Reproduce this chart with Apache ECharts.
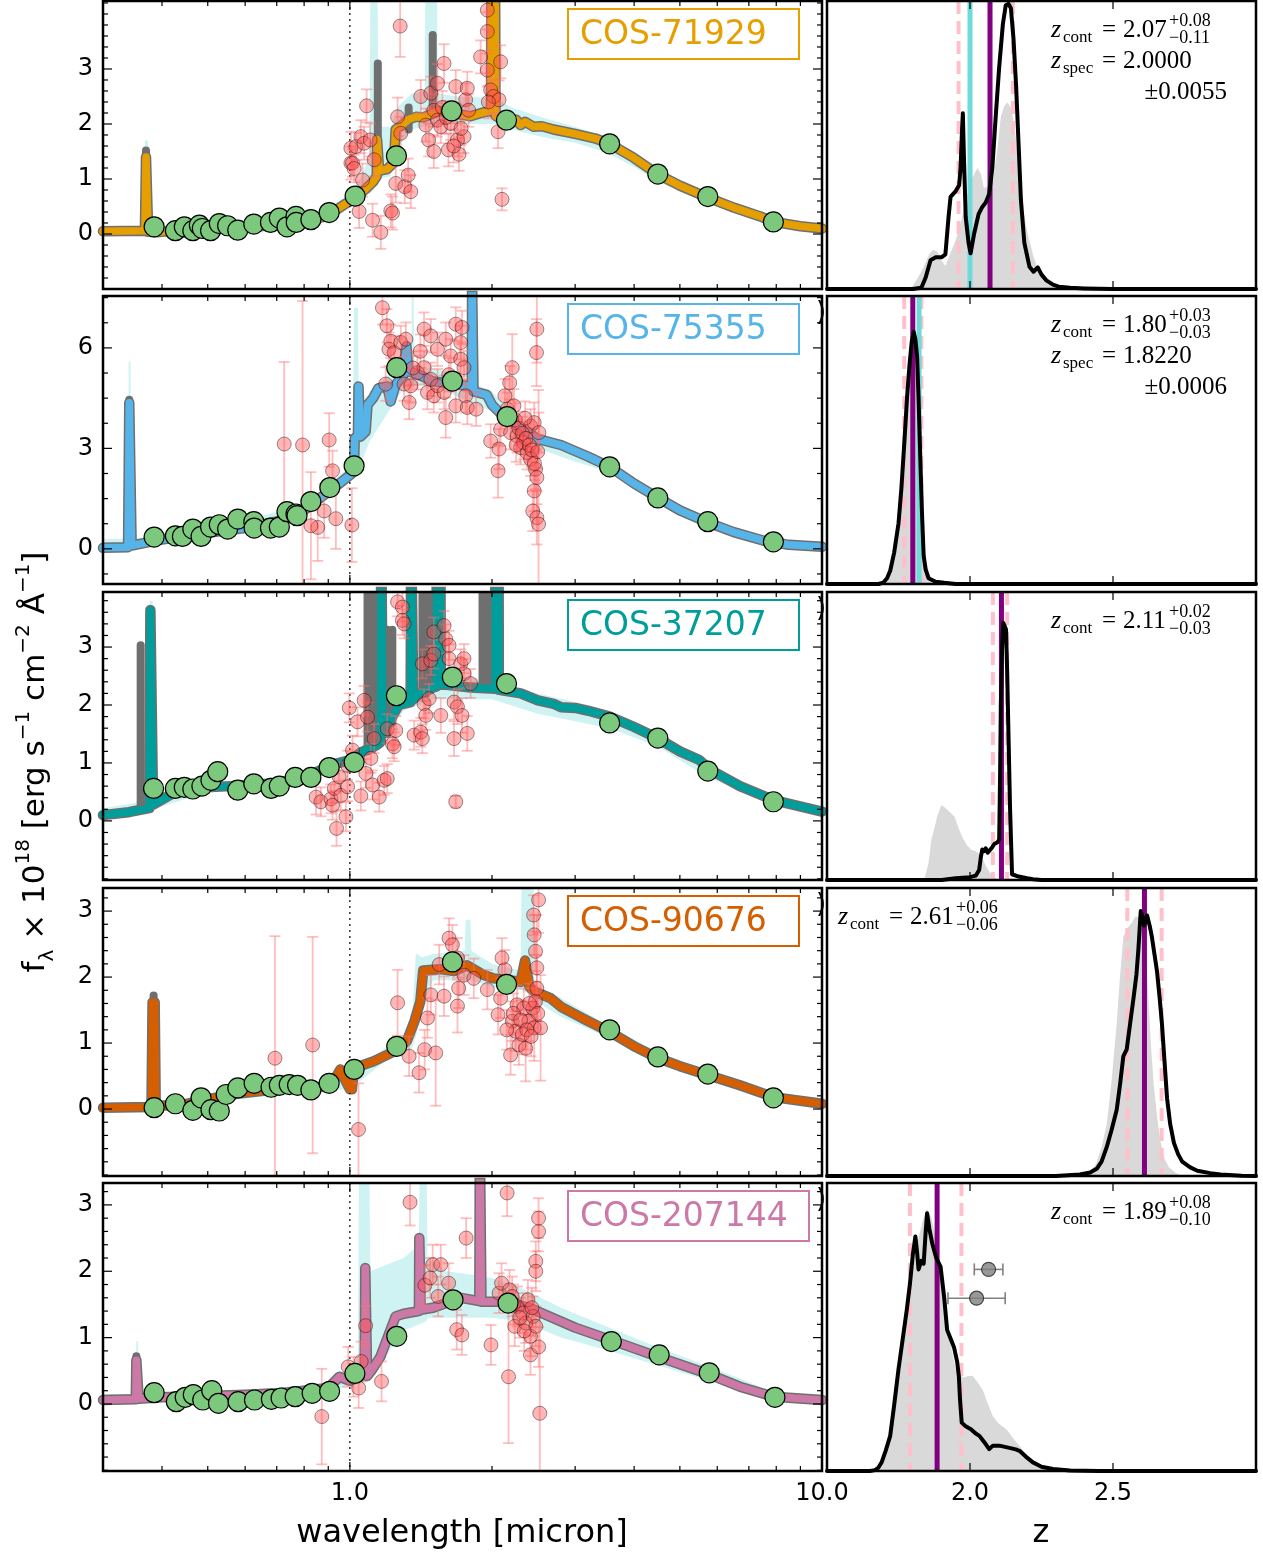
<!DOCTYPE html>
<html><head><meta charset="utf-8">
<script src="https://cdn.jsdelivr.net/npm/echarts@6.0.0/dist/echarts.min.js"></script>
<style>html,body{margin:0;padding:0;background:#fff}#c{width:1263px;height:1555px}</style>
</head><body><div id="c"></div>
<script>
// ---------------- DATA ----------------
const objNames = ['COS-71929','COS-75355','COS-37207','COS-90676','COS-207144'];
const objColors = ['#E69F00','#56B4E9','#009E9A','#D55E00','#CC79A7'];

// model spectra [wavelength micron, flux]
const modelA = [[0.30,0.05],[0.368,0.06],[0.370,1.40],[0.372,1.40],[0.374,0.04],[0.39,0.03],[0.42,0.06],[0.46,0.08],[0.52,0.10],[0.60,0.12],[0.70,0.17],[0.79,0.22],[0.87,0.30],[0.93,0.42],[0.98,0.55],[1.03,0.66],[1.08,0.82],[1.12,0.95],[1.14,1.05],[1.142,1.72],[1.150,1.72],[1.154,1.15],[1.20,1.18],[1.24,1.30],[1.25,1.90],[1.29,1.98],[1.33,2.08],[1.38,2.13],[1.43,2.12],[1.49,2.18],[1.55,2.24],[1.60,2.20],[1.65,2.14],[1.70,2.18],[1.80,2.14],[1.90,2.20],[1.99,2.24],[1.995,5],[2.03,5],[2.035,2.15],[2.08,2.10],[2.15,2.12],[2.20,2.02],[2.25,2.08],[2.30,1.98],[2.35,2.04],[2.45,1.95],[2.55,1.96],[2.70,1.90],[3.0,1.82],[3.3,1.74],[3.55,1.64],[4.0,1.38],[4.5,1.08],[5.0,0.88],[5.7,0.67],[6.5,0.48],[7.4,0.32],[7.9,0.22],[9.0,0.14],[10,0.10]];
const modelB = [[0.30,0.03],[0.339,0.05],[0.341,4.36],[0.343,4.36],[0.345,0.10],[0.36,0.15],[0.40,0.28],[0.45,0.38],[0.50,0.48],[0.60,0.62],[0.70,0.82],[0.80,1.15],[0.88,1.60],[0.95,1.95],[1.0,2.2],[1.02,2.3],[1.024,3.3],[1.04,3.4],[1.043,4.85],[1.05,4.85],[1.053,3.35],[1.08,3.5],[1.09,4.3],[1.12,4.5],[1.15,4.8],[1.2,4.85],[1.22,4.4],[1.25,4.9],[1.3,5.2],[1.318,6.05],[1.33,5.3],[1.40,5.2],[1.5,5.0],[1.6,4.95],[1.7,4.9],[1.812,4.85],[1.815,8],[1.825,8],[1.828,4.7],[1.95,4.6],[2.0,4.3],[2.1,4.0],[2.3,3.6],[2.5,3.28],[2.8,3.1],[3.2,2.75],[3.55,2.45],[4.0,1.95],[4.5,1.52],[5.0,1.15],[5.7,0.80],[6.5,0.50],[7.5,0.25],[8.5,0.12],[10,0.06]];
const modelC = [[0.30,0.10],[0.34,0.15],[0.376,0.22],[0.378,3.64],[0.381,3.64],[0.383,0.28],[0.44,0.56],[0.56,0.60],[0.68,0.64],[0.79,0.73],[0.92,0.97],[1.0,1.05],[1.06,1.19],[1.14,1.31],[1.162,1.36],[1.165,5],[1.172,5],[1.175,1.5],[1.22,1.75],[1.27,2.0],[1.345,2.05],[1.348,5],[1.36,5],[1.363,2.1],[1.42,2.22],[1.50,2.3],[1.525,2.32],[1.528,5],[1.555,5],[1.558,2.35],[1.6,2.35],[1.8,2.3],[2.03,2.28],[2.033,5],[2.065,5],[2.068,2.26],[2.3,2.2],[2.5,2.08],[2.7,2.02],[2.8,1.96],[3.0,1.95],[3.2,1.9],[3.55,1.8],[4.0,1.62],[4.5,1.42],[5.0,1.2],[5.5,1.05],[5.8,0.88],[6.7,0.60],[7.9,0.36],[10,0.16]];
const modelD = [[0.30,0.02],[0.380,0.03],[0.382,1.62],[0.386,1.62],[0.388,0.05],[0.44,0.06],[0.50,0.15],[0.588,0.24],[0.70,0.30],[0.79,0.32],[0.91,0.34],[0.955,0.60],[0.96,0.55],[1.0,0.30],[1.01,0.30],[1.02,0.62],[1.12,0.72],[1.24,0.87],[1.32,1.03],[1.37,1.33],[1.41,1.63],[1.43,2.10],[1.55,2.12],[1.66,2.09],[1.77,2.18],[1.92,2.03],[2.02,1.98],[2.30,1.93],[2.35,2.25],[2.40,1.85],[2.46,1.78],[2.66,1.68],[2.80,1.55],[3.1,1.38],[3.55,1.17],[4.0,0.95],[4.5,0.77],[5.0,0.65],[5.7,0.52],[6.7,0.36],[7.9,0.18],[10,0.08]];
const modelE = [[0.30,0.06],[0.352,0.07],[0.353,0.66],[0.355,0.66],[0.357,0.08],[0.40,0.10],[0.50,0.12],[0.60,0.14],[0.70,0.16],[0.80,0.20],[0.90,0.24],[0.95,0.41],[1.0,0.35],[1.05,0.41],[1.075,0.45],[1.078,2.05],[1.085,2.05],[1.088,0.42],[1.11,0.50],[1.16,0.71],[1.25,1.32],[1.30,1.36],[1.40,1.40],[1.403,2.5],[1.41,2.5],[1.413,1.42],[1.5,1.45],[1.6,1.52],[1.72,1.60],[1.88,1.55],[1.885,4],[1.895,4],[1.90,1.54],[2.1,1.54],[2.4,1.45],[3.0,1.15],[3.55,0.97],[4.5,0.71],[5.7,0.46],[6.7,0.26],[7.9,0.11],[10,0.06]];

// gray model emission lines [wavelength, base, top]
const grayA = [[0.370,0.1,1.52],[1.146,1.1,3.1],[1.332,1.9,2.3],[1.498,2.2,3.62],[2.0,2.2,5]];
const grayB = [[0.341,0.1,4.45],[1.82,4.8,8]];
const grayC = [[0.3605,0.2,3.03],[1.09,1.2,5],[1.12,1.25,5],[1.20,1.5,3.3],[1.23,1.7,3.3],[1.425,2.2,5],[1.45,2.2,5],[1.48,2.25,5],[1.91,2.3,5],[1.94,2.3,5],[1.97,2.3,5]];
const grayD = [[0.384,0.05,1.72]];
const grayE = [[0.353,0.08,0.72],[1.082,0.45,1.82],[1.406,1.4,2.3],[1.89,1.55,4]];

// model uncertainty band [wavelength, low, high]
const bandA = [[0.30,0.0,0.10],[0.367,0.0,0.12],[0.368,0.0,1.70],[0.374,0.0,1.70],[0.376,0.0,0.10],[0.50,0.04,0.16],[0.70,0.11,0.23],[0.90,0.32,0.48],[1.0,0.52,0.72],[1.05,0.62,1.0],[1.10,0.74,1.4],[1.105,0.74,4.3],[1.145,0.9,4.3],[1.15,1.0,1.95],[1.22,1.05,1.95],[1.26,1.55,2.3],[1.35,1.9,2.55],[1.44,1.95,2.6],[1.445,1.95,4.3],[1.53,2.0,4.3],[1.535,2.0,2.55],[1.7,2.0,2.5],[1.9,2.0,2.48],[2.05,2.0,2.45],[2.2,1.9,2.3],[2.6,1.75,2.1],[3.0,1.66,1.95],[3.5,1.48,1.76],[4.0,1.22,1.5],[4.5,0.95,1.18],[5.7,0.56,0.75],[7.0,0.30,0.45],[8.0,0.17,0.28],[10,0.06,0.14]];
const bandB = [[0.30,0.0,0.3],[0.339,0.0,0.3],[0.340,0.0,5.6],[0.343,0.0,5.6],[0.345,0.05,0.3],[0.5,0.38,0.6],[0.8,1.05,1.3],[1.0,2.0,2.45],[1.015,2.1,2.45],[1.02,2.2,7.2],[1.04,2.3,7.2],[1.045,2.4,4.0],[1.1,3.2,4.7],[1.3,4.8,5.6],[1.35,4.9,5.6],[1.352,4.9,7.6],[1.365,4.9,7.6],[1.37,4.9,5.5],[1.6,4.7,5.3],[2.0,4.1,4.7],[2.3,3.2,3.8],[2.5,3.0,3.5],[3.0,2.6,3.0],[3.55,2.3,2.6],[4.5,1.4,1.65],[5.7,0.7,0.9],[7.5,0.18,0.32],[10,0.02,0.1]];
const bandC = [[0.30,0.05,0.22],[0.376,0.15,0.35],[0.377,0.15,3.8],[0.382,0.15,3.8],[0.384,0.2,0.4],[0.5,0.5,0.66],[0.8,0.66,0.8],[1.0,0.98,1.15],[1.15,1.2,1.45],[1.2,1.5,2.0],[1.3,1.9,2.3],[1.5,2.1,2.5],[2.0,2.1,2.45],[2.5,1.85,2.2],[3.0,1.72,2.05],[3.55,1.6,1.9],[4.5,1.28,1.52],[5.7,0.76,0.98],[7.9,0.28,0.42],[10,0.08,0.2]];
const bandD = [[0.30,0.0,0.08],[0.381,0.0,0.1],[0.382,0.0,1.75],[0.386,0.0,1.75],[0.388,0.0,0.1],[0.5,0.1,0.22],[0.8,0.26,0.38],[1.0,0.3,0.5],[1.2,0.75,0.95],[1.35,0.9,1.2],[1.38,1.1,2.36],[1.42,1.5,2.3],[1.5,1.95,2.35],[1.75,1.95,2.4],[1.76,1.95,2.87],[1.80,1.95,2.87],[1.81,1.95,2.4],[2.0,1.85,2.2],[2.3,1.8,2.1],[2.31,1.8,3.5],[2.45,1.7,3.5],[2.46,1.65,1.9],[2.8,1.4,1.68],[3.55,1.07,1.25],[4.5,0.68,0.85],[5.7,0.44,0.6],[7.9,0.12,0.24],[10,0.04,0.12]];
const bandE = [[0.30,0.0,0.15],[0.352,0.02,0.15],[0.353,0.02,0.95],[0.356,0.02,0.95],[0.358,0.03,0.18],[0.6,0.08,0.2],[0.9,0.18,0.32],[1.0,0.28,0.5],[1.04,0.3,0.7],[1.045,0.3,3.4],[1.10,0.35,3.4],[1.105,0.4,2.0],[1.2,0.75,2.1],[1.3,1.1,2.2],[1.40,1.2,2.4],[1.405,1.2,3.4],[1.455,1.25,3.4],[1.46,1.3,2.2],[1.6,1.3,2.0],[1.8,1.3,1.95],[2.0,1.3,1.9],[2.3,1.25,1.75],[2.8,1.0,1.45],[3.55,0.8,1.15],[4.5,0.58,0.85],[5.7,0.36,0.58],[7.9,0.05,0.18],[10,0.02,0.12]];

// photometry [wavelength, flux]
const photA = [[0.385,0.13],[0.427,0.06],[0.446,0.13],[0.465,0.06],[0.480,0.16],[0.487,0.10],[0.507,0.06],[0.529,0.19],[0.551,0.15],[0.579,0.07],[0.626,0.18],[0.679,0.21],[0.709,0.29],[0.736,0.13],[0.769,0.32],[0.770,0.21],[0.827,0.26],[0.904,0.39],[1.026,0.69],[1.255,1.42],[1.643,2.24],[2.147,2.07],[3.55,1.64],[4.49,1.09],[5.73,0.68],[7.89,0.22]];
const photB = [[0.385,0.35],[0.427,0.39],[0.442,0.37],[0.465,0.59],[0.484,0.37],[0.507,0.65],[0.529,0.72],[0.551,0.59],[0.579,0.89],[0.626,0.81],[0.627,0.62],[0.679,0.62],[0.709,0.65],[0.736,1.11],[0.769,1.04],[0.773,0.99],[0.827,1.41],[0.907,1.83],[1.021,2.48],[1.257,5.41],[1.649,5.01],[2.154,3.95],[3.55,2.45],[4.49,1.52],[5.73,0.81],[7.89,0.21]];
const photC = [[0.384,0.56],[0.427,0.56],[0.446,0.58],[0.465,0.55],[0.486,0.60],[0.508,0.70],[0.525,0.85],[0.579,0.53],[0.626,0.64],[0.681,0.56],[0.709,0.60],[0.766,0.75],[0.827,0.75],[0.904,0.92],[1.021,1.01],[1.255,2.16],[1.649,2.48],[2.147,2.37],[3.55,1.69],[4.49,1.43],[5.73,0.86],[7.89,0.33]];
const photD = [[0.385,0.02],[0.427,0.08],[0.465,-0.02],[0.484,0.17],[0.508,-0.01],[0.529,-0.03],[0.547,0.22],[0.579,0.32],[0.627,0.39],[0.681,0.33],[0.709,0.36],[0.744,0.37],[0.775,0.36],[0.827,0.29],[0.904,0.39],[1.021,0.60],[1.257,0.95],[1.649,2.23],[2.147,1.89],[3.55,1.20],[4.49,0.79],[5.73,0.53],[7.89,0.17]];
const photE = [[0.385,0.17],[0.429,0.035],[0.448,0.10],[0.466,0.14],[0.488,0.06],[0.51,0.20],[0.527,0.01],[0.58,0.035],[0.628,0.06],[0.682,0.07],[0.715,0.09],[0.766,0.11],[0.832,0.16],[0.906,0.19],[1.025,0.46],[1.257,1.02],[1.654,1.57],[2.163,1.52],[3.58,0.94],[4.52,0.74],[5.77,0.47],[7.95,0.10]];

// grism spectroscopy [wavelength, flux, error]
const specA = [[1.005,1.56,0.3],[1.005,1.29,0.3],[1.013,1.29,0.25],[1.021,1.19,0.25],[1.03,1.59,0.25],[1.046,0.41,0.3],[1.055,1.77,0.3],[1.064,0.98,0.3],[1.072,1.65,0.3],[1.085,2.33,0.3],[1.104,1.71,0.3],[1.117,0.25,0.3],[1.126,1.35,0.3],[1.163,0.03,0.3],[1.221,0.42,0.3],[1.231,0.38,0.3],[1.251,0.92,0.35],[1.262,2.13,0.35],[1.278,3.78,0.56],[1.282,1.83,0.3],[1.307,0.86,0.3],[1.329,1.07,0.3],[1.346,0.77,0.3],[1.413,2.5,0.3],[1.448,1.98,0.3],[1.469,1.71,0.3],[1.484,2.56,0.3],[1.506,2.25,0.3],[1.506,1.5,0.3],[1.533,2.74,0.35],[1.533,2.07,0.3],[1.558,1.95,0.3],[1.583,3.1,0.35],[1.617,1.53,0.3],[1.635,2.01,0.3],[1.676,2.68,0.3],[1.69,1.71,0.3],[1.703,1.45,0.3],[1.745,1.77,0.3],[1.759,2.44,0.3],[1.773,2.65,0.3],[1.785,2.25,0.3],[1.892,3.22,0.3],[1.955,4.07,0.35],[1.955,3.68,0.35],[1.955,2.98,0.3],[1.987,2.62,0.3],[2.016,2.5,0.3],[2.06,1.86,0.3],[2.07,2.44,0.35],[2.086,3.13,0.3],[2.10,0.63,0.2],[1.57,2.3,0.3],[1.60,2.12,0.3],[1.66,1.6,0.3],[1.72,1.92,0.3],[1.965,2.4,0.3]];
const specB = [[0.726,3.13,2.45],[0.794,3.1,4.3],[0.855,0.64,1.0],[0.827,0.69,1.6],[0.882,1.13,0.8],[0.904,3.25,0.8],[0.919,2.33,0.6],[0.934,0.9,0.9],[1.01,0.71,1.1],[1.172,7.2,0.5],[1.191,4.92,0.5],[1.198,6.66,0.5],[1.21,5.96,0.5],[1.221,6.2,0.5],[1.241,5.86,0.5],[1.282,6.16,0.5],[1.303,4.92,0.5],[1.314,6.26,0.5],[1.335,4.37,0.5],[1.346,4.87,0.5],[1.39,5.26,0.5],[1.436,6.56,0.5],[1.436,5.41,0.5],[1.46,4.67,0.5],[1.484,6.36,0.5],[1.484,5.06,0.5],[1.506,4.57,0.5],[1.533,5.96,0.5],[1.533,4.87,0.5],[1.583,4.67,0.5],[1.596,6.26,0.5],[1.596,3.92,0.6],[1.635,5.76,0.5],[1.676,6.71,0.5],[1.676,4.27,0.5],[1.717,6.16,0.5],[1.717,5.66,0.5],[1.728,6.61,0.5],[1.745,5.41,0.5],[1.759,4.57,0.5],[1.773,4.22,0.5],[1.851,4.17,0.5],[1.987,3.22,0.5],[2.06,2.33,0.8],[2.07,2.98,0.6],[2.086,3.57,0.5],[2.13,4.57,0.5],[2.154,4.17,0.5],[2.18,4.96,0.5],[2.19,3.47,0.5],[2.208,5.41,1.0],[2.226,4.27,0.5],[2.26,3.37,0.5],[2.299,3.02,0.5],[2.334,3.17,0.5],[2.375,2.87,0.5],[2.414,3.67,0.5],[2.414,2.68,0.5],[2.44,1.13,0.6],[2.457,3.77,0.6],[2.457,1.73,0.6],[2.473,2.38,0.6],[2.485,5.86,1.0],[2.489,6.56,1.0],[2.489,2.13,0.8],[2.489,0.93,0.8],[2.514,3.47,0.6],[2.51,0.74,4.0],[2.24,3.85,0.5],[2.28,3.6,0.5],[2.32,3.45,0.5],[2.36,3.3,0.5],[2.40,3.1,0.5],[2.43,2.95,0.5],[2.46,2.55,0.5],[2.50,2.9,0.5],[2.35,3.9,0.5],[2.25,3.1,0.5],[1.36,5.4,0.5],[1.62,5.2,0.5],[1.41,5.9,0.5]];
const specC = [[0.848,0.41,0.3],[0.868,0.33,0.25],[0.912,0.38,0.25],[0.919,0.27,0.25],[0.927,0.56,0.25],[0.937,-0.13,0.3],[0.949,0.76,0.25],[0.957,0.44,0.25],[0.981,0.07,0.25],[0.989,0.96,0.25],[0.989,0.59,0.25],[0.997,1.95,0.25],[1.013,1.22,0.25],[1.038,1.71,0.25],[1.055,0.43,0.25],[1.072,2.08,0.25],[1.081,0.82,0.25],[1.09,1.79,0.25],[1.108,1.08,0.25],[1.117,0.62,0.25],[1.126,1.42,0.25],[1.154,0.41,0.25],[1.182,0.7,0.25],[1.2,0.73,0.25],[1.2,1.59,0.25],[1.231,1.33,0.25],[1.241,1.28,0.25],[1.251,1.56,0.25],[1.262,3.78,0.25],[1.292,3.69,0.25],[1.292,3.46,0.25],[1.303,3.4,0.25],[1.368,1.48,0.25],[1.413,1.53,0.25],[1.424,1.42,0.25],[1.424,2.71,0.25],[1.436,2.02,0.25],[1.448,1.82,0.25],[1.472,2.11,0.25],[1.484,2.77,0.25],[1.506,3.26,0.25],[1.506,2.88,0.25],[1.558,1.82,0.3],[1.583,3.37,0.25],[1.596,3.14,0.25],[1.622,3.03,0.25],[1.622,2.8,0.25],[1.662,2.05,0.3],[1.662,1.42,0.3],[1.676,0.33,0.1],[1.69,1.97,0.3],[1.717,2.71,0.25],[1.728,1.82,0.3],[1.745,2.8,0.25],[1.745,2.54,0.25],[1.773,1.51,0.3],[1.802,2.37,0.25]];
const specD = [[0.694,0.77,1.85],[0.834,0.97,1.64],[1.043,-0.31,0.7],[1.262,1.61,0.5],[1.335,0.8,0.3],[1.401,0.55,0.3],[1.44,0.9,0.3],[1.46,1.38,0.3],[1.484,1.73,0.3],[1.52,0.85,0.8],[1.546,2.19,0.3],[1.583,1.71,0.3],[1.622,2.59,0.3],[1.649,2.49,0.3],[1.69,2.29,0.3],[1.69,1.56,0.4],[1.70,1.83,0.3],[1.745,2.03,0.3],[1.83,1.98,0.3],[1.955,1.81,0.3],[2.06,1.43,0.3],[2.086,1.68,0.3],[2.10,2.29,0.3],[2.13,2.11,0.3],[2.19,0.82,0.3],[2.208,1.33,0.3],[2.244,1.18,0.3],[2.26,1.58,0.3],[2.28,0.97,0.3],[2.32,1.13,0.3],[2.335,1.53,0.3],[2.357,0.92,0.5],[2.394,1.33,0.3],[2.44,1.53,0.3],[2.45,2.94,0.3],[2.457,1.23,0.5],[2.457,2.64,0.3],[2.473,1.63,0.3],[2.473,2.39,0.3],[2.489,2.14,0.8],[2.489,1.83,0.5],[2.51,3.17,0.5],[2.535,1.23,0.8],[2.22,1.45,0.3],[2.30,1.35,0.3],[2.37,1.2,0.3],[2.42,1.1,0.3],[2.40,1.6,0.3],[2.50,1.45,0.3],[2.15,1.2,0.3]];
const specE = [[0.872,-0.19,0.72],[0.992,0.56,0.3],[1.018,0.41,0.3],[1.044,0.24,0.3],[1.057,0.64,0.3],[1.08,1.18,0.3],[1.167,0.34,0.3],[1.341,3.04,0.35],[1.442,1.79,0.3],[1.479,1.9,0.3],[1.498,2.1,0.3],[1.538,1.62,0.3],[1.558,2.1,0.3],[1.619,1.82,0.3],[1.684,1.12,0.3],[1.727,1.04,0.3],[1.763,2.5,0.3],[1.99,0.89,0.3],[2.07,1.67,0.3],[2.096,1.82,0.3],[2.153,3.18,0.35],[2.168,0.41,1.0],[2.179,1.72,0.3],[2.207,1.62,0.3],[2.235,1.17,0.3],[2.264,1.47,0.3],[2.323,1.37,0.3],[2.357,1.22,0.3],[2.383,1.57,0.3],[2.413,1.02,0.3],[2.413,0.74,0.3],[2.445,1.32,0.3],[2.476,1.17,0.3],[2.476,2.15,0.3],[2.476,2.0,0.3],[2.511,0.86,0.3],[2.51,2.6,0.3],[2.51,2.8,0.3],[2.525,-0.14,1.5],[2.29,1.3,0.3],[2.34,1.1,0.3],[2.43,1.45,0.3],[2.22,1.5,0.3]];

// redshift posteriors [z, p]
const pdfA = [[1.5,0],[1.80,0],[1.83,0.004],[1.845,0.04],[1.862,0.10],[1.88,0.11],[1.90,0.11],[1.914,0.12],[1.925,0.25],[1.932,0.32],[1.95,0.34],[1.962,0.36],[1.967,0.42],[1.972,0.55],[1.975,0.61],[1.979,0.45],[1.985,0.25],[1.995,0.16],[2.002,0.124],[2.014,0.19],[2.03,0.26],[2.043,0.285],[2.055,0.30],[2.067,0.33],[2.078,0.42],[2.09,0.60],[2.102,0.77],[2.115,0.92],[2.125,0.985],[2.135,0.99],[2.143,0.975],[2.152,0.87],[2.161,0.71],[2.17,0.50],[2.178,0.31],[2.19,0.16],[2.208,0.077],[2.222,0.06],[2.237,0.075],[2.25,0.05],[2.267,0.03],[2.29,0.015],[2.31,0.008],[2.35,0.004],[2.4,0.002],[2.5,0],[3.0,0]];
const pdfGrayA = [[1.5,0],[1.78,0],[1.80,0.01],[1.83,0.06],[1.857,0.12],[1.87,0.135],[1.885,0.13],[1.90,0.10],[1.914,0.08],[1.93,0.12],[1.95,0.17],[1.97,0.24],[1.985,0.31],[2.005,0.38],[2.026,0.42],[2.038,0.40],[2.049,0.35],[2.065,0.36],[2.08,0.377],[2.095,0.48],[2.108,0.60],[2.12,0.635],[2.131,0.648],[2.143,0.63],[2.155,0.57],[2.168,0.45],[2.18,0.31],[2.2,0.20],[2.22,0.12],[2.24,0.06],[2.255,0.03],[2.29,0.008],[2.32,0],[3.0,0]];
const pdfB = [[1.5,0],[1.68,0],[1.697,0.005],[1.71,0.02],[1.721,0.046],[1.735,0.11],[1.75,0.21],[1.76,0.33],[1.771,0.50],[1.78,0.65],[1.788,0.755],[1.796,0.84],[1.803,0.876],[1.809,0.85],[1.815,0.79],[1.82,0.65],[1.826,0.444],[1.832,0.25],[1.838,0.098],[1.845,0.05],[1.855,0.02],[1.88,0.008],[1.91,0.004],[1.95,0],[3.0,0]];
const pdfGrayB = [[1.5,0],[1.69,0],[1.705,0.02],[1.726,0.08],[1.745,0.2],[1.756,0.31],[1.77,0.5],[1.785,0.7],[1.8,0.78],[1.812,0.72],[1.822,0.5],[1.832,0.25],[1.845,0.08],[1.86,0.03],[1.88,0],[3.0,0]];
const pdfC = [[1.5,0],[1.90,0],[1.95,0.006],[2.0,0.01],[2.02,0.015],[2.032,0.035],[2.038,0.08],[2.043,0.106],[2.05,0.10],[2.055,0.11],[2.062,0.095],[2.067,0.09],[2.075,0.11],[2.085,0.125],[2.095,0.13],[2.102,0.14],[2.105,0.35],[2.108,0.613],[2.112,0.80],[2.116,0.893],[2.12,0.885],[2.126,0.87],[2.13,0.72],[2.135,0.484],[2.14,0.25],[2.147,0.02],[2.17,0.012],[2.2,0.006],[2.22,0.003],[2.25,0],[3.0,0]];
const pdfGrayC = [[1.5,0],[1.84,0],[1.855,0.06],[1.865,0.14],[1.873,0.17],[1.885,0.22],[1.90,0.26],[1.914,0.25],[1.93,0.235],[1.946,0.22],[1.96,0.18],[1.975,0.145],[1.99,0.12],[2.004,0.105],[2.02,0.10],[2.032,0.09],[2.045,0.07],[2.055,0.05],[2.07,0.025],[2.08,0.013],[2.1,0],[3.0,0]];
const pdfD = [[1.5,0],[2.3,0],[2.384,0.005],[2.42,0.012],[2.443,0.025],[2.46,0.05],[2.478,0.10],[2.495,0.16],[2.513,0.23],[2.525,0.32],[2.536,0.415],[2.548,0.44],[2.56,0.53],[2.572,0.62],[2.582,0.70],[2.589,0.79],[2.597,0.92],[2.603,0.90],[2.609,0.87],[2.619,0.905],[2.628,0.87],[2.636,0.83],[2.645,0.77],[2.654,0.71],[2.663,0.62],[2.671,0.53],[2.68,0.40],[2.689,0.27],[2.7,0.18],[2.713,0.115],[2.728,0.075],[2.742,0.05],[2.77,0.03],[2.795,0.018],[2.84,0.01],[2.876,0.005],[2.95,0.001],[3.0,0]];
const pdfGrayD = [[1.5,0],[2.38,0],[2.408,0.005],[2.44,0.04],[2.46,0.10],[2.478,0.18],[2.495,0.33],[2.513,0.53],[2.525,0.70],[2.536,0.83],[2.55,0.86],[2.566,0.88],[2.578,0.90],[2.589,0.90],[2.6,0.86],[2.613,0.79],[2.625,0.60],[2.633,0.45],[2.642,0.32],[2.655,0.20],[2.666,0.12],[2.68,0.06],[2.695,0.03],[2.72,0.01],[2.74,0],[3.0,0]];
const pdfE = [[1.5,0],[1.65,0],[1.668,0.003],[1.68,0.012],[1.691,0.03],[1.705,0.07],[1.721,0.122],[1.735,0.23],[1.75,0.353],[1.765,0.46],[1.779,0.56],[1.79,0.65],[1.80,0.75],[1.809,0.814],[1.815,0.76],[1.82,0.70],[1.83,0.73],[1.838,0.72],[1.845,0.83],[1.85,0.895],[1.858,0.84],[1.868,0.79],[1.882,0.74],[1.897,0.71],[1.91,0.60],[1.92,0.49],[1.932,0.46],[1.944,0.43],[1.955,0.38],[1.961,0.33],[1.965,0.25],[1.971,0.168],[1.985,0.155],[2.003,0.145],[2.02,0.13],[2.033,0.122],[2.05,0.10],[2.067,0.076],[2.08,0.088],[2.102,0.088],[2.13,0.082],[2.16,0.075],[2.173,0.07],[2.195,0.05],[2.22,0.03],[2.25,0.015],[2.29,0.007],[2.35,0.002],[2.45,0],[3.0,0]];
const pdfGrayE = [[1.5,0],[1.68,0],[1.695,0.02],[1.715,0.10],[1.74,0.24],[1.76,0.38],[1.785,0.58],[1.80,0.70],[1.82,0.81],[1.835,0.87],[1.85,0.91],[1.865,0.88],[1.88,0.81],[1.897,0.70],[1.914,0.56],[1.93,0.45],[1.95,0.353],[1.975,0.325],[1.995,0.33],[2.01,0.33],[2.025,0.31],[2.045,0.28],[2.06,0.24],[2.08,0.19],[2.1,0.165],[2.127,0.145],[2.15,0.115],[2.173,0.087],[2.195,0.06],[2.22,0.03],[2.25,0.01],[2.28,0],[3.0,0]];

// redshift markers
const zCont = [2.07, 1.80, 2.11, 2.61, 1.885];
const zPctLo = [1.96, 1.77, 2.08, 2.55, 1.79];
const zPctHi = [2.15, 1.83, 2.13, 2.67, 1.97];
const zSpec = [2.0, 1.822, null, null, null];
// other redshift estimates in last panel [z, p, zlo, zhi]
const zOtherE = [[2.065,0.70,2.015,2.115],[2.023,0.60,1.923,2.123]];

// annotation texts
const zTxtVal = ['2.07','1.80','2.11','2.61','1.89'];
const zTxtUp = ['+0.08','+0.03','+0.02','+0.06','+0.08'];
const zTxtLo = ['\u22120.11','\u22120.03','\u22120.03','\u22120.06','\u22120.10'];
const zSpecTxt = ['2.0000','1.8220',null,null,null];
const zSpecErrTxt = ['\u00b10.0055','\u00b10.0006',null,null,null];

// axis ticks
const yMajor = [[0,1,2,3],[0,3,6],[0,1,2,3],[0,1,2,3],[0,1,2,3]];
const yMinorStep = [0.2,0.75,0.2,0.2,0.2];
const yRange = [[-1.0,4.236],[-1.05,7.55],[-1.02,3.95],[-1.015,3.35],[-1.01,3.33]];
const xMajor = [1,10], xMajorLabels = ['1.0','10.0'];
const xMinor = [0.4,0.5,0.6,0.7,0.8,0.9,2,3,4,5,6,7,8,9];
const zTicks = [1.5,2.0,2.5], zTickLabels = ['','2.0','2.5'];

// ---------------- LAYOUT ----------------
const ROW_TOP = [1,296,592,888,1183], ROW_H = 288;
const LX = 103, LW = 719, RX = 827, RW = 429;
const BOX_W = [231,231,231,231,241];
const ZTXT_X = [1051,1051,1051,838,1051];

const models=[modelA,modelB,modelC,modelD,modelE], grays=[grayA,grayB,grayC,grayD,grayE];
const bands=[bandA,bandB,bandC,bandD,bandE], phots=[photA,photB,photC,photD,photE];
const specs=[specA,specB,specC,specD,specE];
const pdfs=[pdfA,pdfB,pdfC,pdfD,pdfE], pdfGrays=[pdfGrayA,pdfGrayB,pdfGrayC,pdfGrayD,pdfGrayE];

const chart = echarts.init(document.getElementById('c'), null, {renderer:'canvas', width:1263, height:1555});
const H = {show:false};
const grid=[], xAxis=[], yAxis=[], series=[], graphic=[];

function bandSeries(gi, band){
  return {type:'custom', xAxisIndex:gi, yAxisIndex:gi, clip:true, silent:true, z:1,
    data:[[band[0][0], band[0][1]]],
    renderItem(p, api){
      const pts = band.map(b=>api.coord([b[0],b[1]])).concat(band.slice().reverse().map(b=>api.coord([b[0],b[2]])));
      return {type:'polygon', shape:{points:pts}, style:{fill:'#cff3f3'}};
    }};
}
function spikeSeries(gi, data){
  return {type:'custom', xAxisIndex:gi, yAxisIndex:gi, clip:true, silent:true, z:2,
    data:data,
    renderItem(p, api){
      const a=api.coord([api.value(0),api.value(1)]), b=api.coord([api.value(0),api.value(2)]);
      return {type:'line', shape:{x1:a[0],y1:a[1],x2:b[0],y2:b[1]}, style:{stroke:'#6f6f6f', lineWidth:8, lineCap:'round'}};
    }};
}
function vErrSeries(gi, data){
  return {type:'custom', xAxisIndex:gi, yAxisIndex:gi, clip:true, silent:true, z:4,
    data:data,
    renderItem(p, api){
      const x=api.value(0), y=api.value(1), e=api.value(2);
      const a=api.coord([x,y-e]), b=api.coord([x,y+e]), c=5.5;
      const st={stroke:'rgba(255,110,110,0.45)', lineWidth:1.8};
      return {type:'group', children:[
        {type:'line', shape:{x1:a[0],y1:a[1],x2:b[0],y2:b[1]}, style:st},
        {type:'line', shape:{x1:a[0]-c,y1:a[1],x2:a[0]+c,y2:a[1]}, style:st},
        {type:'line', shape:{x1:b[0]-c,y1:b[1],x2:b[0]+c,y2:b[1]}, style:st}]};
    }};
}
function hErrSeries(gi, data){
  return {type:'custom', xAxisIndex:gi, yAxisIndex:gi, clip:true, silent:true, z:7,
    data:data,
    renderItem(p, api){
      const y=api.value(1);
      const a=api.coord([api.value(2),y]), b=api.coord([api.value(3),y]), c=6;
      const st={stroke:'#808080', lineWidth:1.6};
      return {type:'group', children:[
        {type:'line', shape:{x1:a[0],y1:a[1],x2:b[0],y2:b[1]}, style:st},
        {type:'line', shape:{x1:a[0],y1:a[1]-c,x2:a[0],y2:a[1]+c}, style:st},
        {type:'line', shape:{x1:b[0],y1:b[1]-c,x2:b[0],y2:b[1]+c}, style:st}]};
    }};
}
function vLineSeries(gi, xv, yref, style, z){
  return {type:'custom', xAxisIndex:gi, yAxisIndex:gi, clip:true, silent:true, z:z,
    data:[[xv, yref]],
    renderItem(p, api){
      const cs=p.coordSys; const x=api.coord([api.value(0),api.value(1)])[0];
      return {type:'line', shape:{x1:x,y1:cs.y,x2:x,y2:cs.y+cs.height}, style:style};
    }};
}
function txtStyle(text, size, align, valign, family){
  return {text:text, fill:'#000', fontSize:size, fontFamily:family||'DejaVu Sans',
    align:align, verticalAlign:valign, textAlign:align, textVerticalAlign:valign};
}
function decoSeries(gi, xr, yr, xT, yT){
  const items=[['f',0,0,'']].concat(xT.map(t=>['x',t[0],t[1],t[2]]), yT.map(t=>['y',t[0],t[1],t[2]]));
  return {type:'custom', xAxisIndex:gi, yAxisIndex:gi, clip:false, silent:true, z:20,
    data: items.map(it => it[0]==='x' ? [it[1], yr[0]] : (it[0]==='y' ? [xr[0], it[1]] : [xr[0], yr[0]])),
    renderItem(p, api){
      const it=items[p.dataIndex], cs=p.coordSys;
      const L=cs.x, R=cs.x+cs.width, T=cs.y, B=cs.y+cs.height;
      if(it[0]==='f') return {type:'rect', shape:{x:L,y:T,width:cs.width,height:cs.height}, style:{fill:'none', stroke:'#000', lineWidth:2.5}};
      const st={stroke:'#000', lineWidth:1.2}; const ch=[];
      const c=api.coord([api.value(0),api.value(1)]);
      if(it[0]==='x'){
        const x=c[0];
        ch.push({type:'line', shape:{x1:x,y1:B,x2:x,y2:B-it[2]}, style:st});
        ch.push({type:'line', shape:{x1:x,y1:T,x2:x,y2:T+it[2]}, style:st});
        if(it[3]) ch.push({type:'text', x:x, y:B+11, style:txtStyle(it[3],24,'center','top')});
      } else {
        const y=c[1];
        ch.push({type:'line', shape:{x1:L,y1:y,x2:L+it[2],y2:y}, style:st});
        ch.push({type:'line', shape:{x1:R,y1:y,x2:R-it[2],y2:y}, style:st});
        if(it[3]) ch.push({type:'text', x:L-10, y:y, style:txtStyle(it[3],24,'right','middle')});
      }
      return {type:'group', children:ch};
    }};
}

for(let r=0;r<5;r++){
  const gl=2*r, gr=2*r+1, last=(r===4);
  grid.push({left:LX, top:ROW_TOP[r], width:LW, height:ROW_H, show:false});
  grid.push({left:RX, top:ROW_TOP[r], width:RW, height:ROW_H, show:false});
  xAxis.push({type:'log', logBase:10, min:0.3, max:10, gridIndex:gl, axisLine:H, axisTick:H, axisLabel:H, splitLine:H});
  yAxis.push({type:'value', min:yRange[r][0], max:yRange[r][1], gridIndex:gl, axisLine:H, axisTick:H, axisLabel:H, splitLine:H});
  xAxis.push({type:'value', min:1.5, max:3.0, gridIndex:gr, axisLine:H, axisTick:H, axisLabel:H, splitLine:H});
  yAxis.push({type:'value', min:0, max:1, gridIndex:gr, axisLine:H, axisTick:H, axisLabel:H, splitLine:H});

  // left SED panel
  series.push(bandSeries(gl, bands[r]));
  series.push({type:'line', xAxisIndex:gl, yAxisIndex:gl, data:models[r], symbol:'none', silent:true, clip:true, z:2,
    lineStyle:{color:'#6f6f6f', width:10.5, cap:'round', join:'round'}});
  series.push(spikeSeries(gl, grays[r]));
  series.push({type:'line', xAxisIndex:gl, yAxisIndex:gl, data:models[r], symbol:'none', silent:true, clip:true, z:3,
    lineStyle:{color:objColors[r], width:7.5, cap:'round', join:'round'}});
  series.push(vLineSeries(gl, 1.0, 0, {stroke:'#000', lineWidth:1.2, lineDash:[2,4]}, 3));
  series.push(vErrSeries(gl, specs[r]));
  series.push({type:'scatter', xAxisIndex:gl, yAxisIndex:gl, data:specs[r].map(d=>[d[0],d[1]]), symbolSize:14, silent:true, z:5,
    itemStyle:{color:'rgba(255,80,80,0.52)', borderColor:'rgba(0,0,0,0.5)', borderWidth:1}});
  series.push({type:'scatter', xAxisIndex:gl, yAxisIndex:gl, data:phots[r], symbolSize:20, silent:true, z:6,
    itemStyle:{color:'#7cc87c', borderColor:'#000', borderWidth:1.2, opacity:1}});
  const yT=[];
  for(let v=Math.ceil(yRange[r][0]/yMinorStep[r])*yMinorStep[r]; v<=yRange[r][1]+1e-9; v+=yMinorStep[r]){
    const vv=Math.round(v*1000)/1000;
    if(!yMajor[r].some(m=>Math.abs(m-vv)<1e-6)) yT.push([vv,5,'']);
  }
  yMajor[r].forEach(m=>yT.push([m,9,String(m)]));
  const xT=xMinor.map(v=>[v,5,'']).concat(xMajor.map((v,i)=>[v,9,last?xMajorLabels[i]:'']));
  series.push(decoSeries(gl,[0.3,10],yRange[r],xT,yT));

  // right p(z) panel
  series.push({type:'line', xAxisIndex:gr, yAxisIndex:gr, data:pdfGrays[r], symbol:'none', silent:true, z:1,
    lineStyle:{width:0, opacity:0}, areaStyle:{color:'#d9d9d9', opacity:1}});
  const dash={stroke:'#ffc0cb', lineWidth:4, lineDash:[13,7]};
  series.push(vLineSeries(gr, zPctLo[r], 0, dash, 2));
  series.push(vLineSeries(gr, zPctHi[r], 0, dash, 2));
  if(zSpec[r]!==null) series.push(vLineSeries(gr, zSpec[r], 0, {stroke:'#6fdada', lineWidth:5}, 3));
  series.push(vLineSeries(gr, zCont[r], 0, {stroke:'#800080', lineWidth:5}, 4));
  series.push({type:'line', xAxisIndex:gr, yAxisIndex:gr, data:pdfs[r], symbol:'none', silent:true, z:6,
    lineStyle:{color:'#000', width:4, join:'round', cap:'round'}});
  if(last){
    series.push(hErrSeries(gr, zOtherE));
    series.push({type:'scatter', xAxisIndex:gr, yAxisIndex:gr, data:zOtherE.map(d=>[d[0],d[1]]), symbolSize:14, silent:true, z:8,
      itemStyle:{color:'#808080', borderColor:'#222', borderWidth:1.2}});
  }
  series.push(decoSeries(gr,[1.5,3.0],[0,1],zTicks.map((v,i)=>[v,8,last?zTickLabels[i]:'']),[]));

  // name box
  graphic.push({type:'rect', z:100, shape:{x:568, y:ROW_TOP[r]+8, width:BOX_W[r], height:50},
    style:{fill:'#fff', stroke:objColors[r], lineWidth:2}});
  graphic.push({type:'text', z:101, x:580, y:ROW_TOP[r]+34,
    style:{text:objNames[r], fill:objColors[r], fontSize:33, fontFamily:'DejaVu Sans', align:'left', verticalAlign:'middle', textAlign:'left', textVerticalAlign:'middle'}});

  // redshift annotations
  const X0=ZTXT_X[r], T=ROW_TOP[r], serif='Liberation Serif';
  const tx=(x,y,t,size,align,italic)=>graphic.push({type:'text', z:102, x:x, y:y,
    style:{text:t, fill:'#000', fontSize:size, fontFamily:serif, fontStyle:italic?'italic':'normal', align:align, verticalAlign:'middle', textAlign:align, textVerticalAlign:'middle'}});
  tx(X0, T+29, 'z', 26, 'left', true);
  tx(X0+12, T+37, 'cont', 17, 'left', false);
  tx(X0+51, T+29, '=', 25, 'left', false);
  tx(X0+72, T+29, zTxtVal[r], 25, 'left', false);
  tx(X0+118, T+20, zTxtUp[r], 18, 'left', false);
  tx(X0+118, T+37, zTxtLo[r], 18, 'left', false);
  if(zSpecTxt[r]){
    tx(X0, T+60, 'z', 26, 'left', true);
    tx(X0+12, T+68, 'spec', 17, 'left', false);
    tx(X0+51, T+60, '=', 25, 'left', false);
    tx(X0+72, T+60, zSpecTxt[r], 25, 'left', false);
    tx(X0+176, T+91, zSpecErrTxt[r], 25, 'right', false);
  }
  if(r>0) graphic.push({type:'text', z:0, x:816, y:T+17, style:{text:')', fill:'#000', fontSize:26, fontFamily:'DejaVu Sans', align:'left', verticalAlign:'middle', textAlign:'left', textVerticalAlign:'middle'}});
}

graphic.push({type:'text', z:100, x:462, y:1534, style:{text:'wavelength [micron]', fill:'#000', fontSize:32, fontFamily:'DejaVu Sans', align:'center', verticalAlign:'middle', textAlign:'center', textVerticalAlign:'middle'}});
graphic.push({type:'text', z:100, x:1041, y:1534, style:{text:'z', fill:'#000', fontSize:32, fontFamily:'DejaVu Sans', align:'center', verticalAlign:'middle', textAlign:'center', textVerticalAlign:'middle'}});
graphic.push({type:'text', z:100, x:36, y:762, rotation:Math.PI/2,
  style:{text:'{b|f}{s|\u03bb}{b| \u00d7 10}{p|18}{b| [erg s}{p|\u22121}{b| cm}{p|\u22122}{b| \u00c5}{p|\u22121}{b|]}',
    fill:'#000', align:'center', verticalAlign:'middle', textAlign:'center', textVerticalAlign:'middle',
    rich:{b:{fontSize:31, fontFamily:'DejaVu Sans', lineHeight:44, verticalAlign:'middle', fill:'#000'},
          s:{fontSize:20, fontFamily:'DejaVu Sans', lineHeight:30, verticalAlign:'bottom', fill:'#000'},
          p:{fontSize:20, fontFamily:'DejaVu Sans', lineHeight:22, verticalAlign:'top', fill:'#000'}}}});

chart.setOption({animation:false, backgroundColor:'#fff', grid:grid, xAxis:xAxis, yAxis:yAxis, series:series, graphic:{elements:graphic}});
</script></body></html>
